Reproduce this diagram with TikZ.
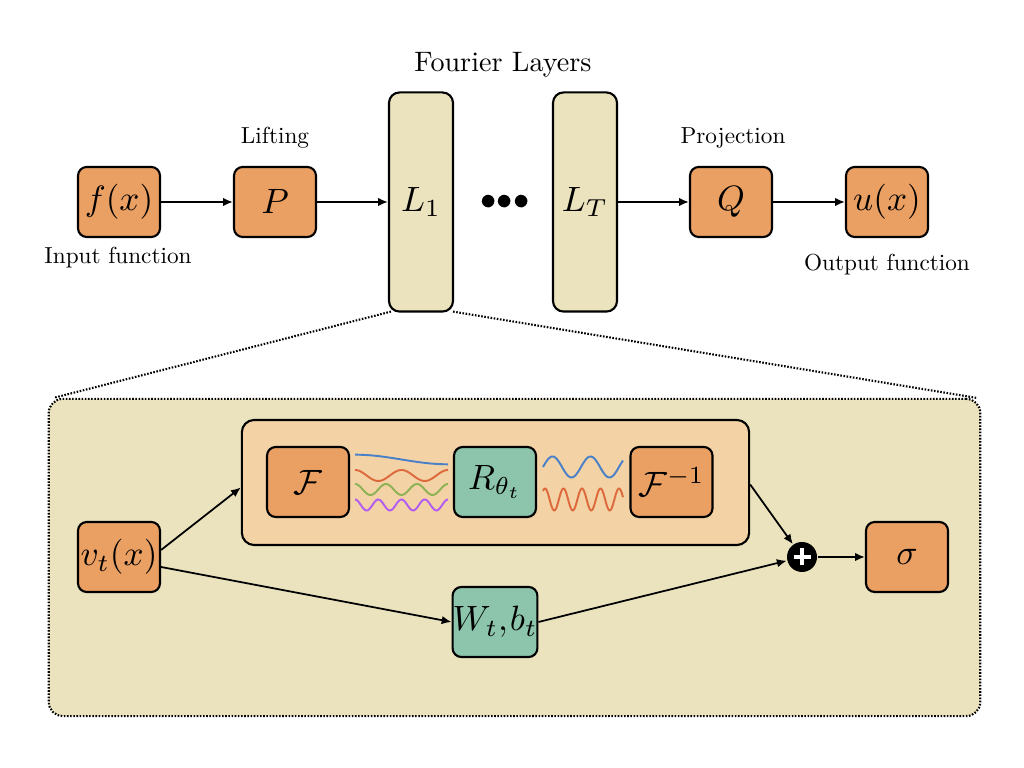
\documentclass[tikz,border=0pt]{standalone}
\usetikzlibrary{arrows.meta}
\definecolor{boxorange}{HTML}{EBA063}
\definecolor{boxgreen}{HTML}{8CC5AC}
\definecolor{panelfill}{HTML}{EAE3BE}
\definecolor{innerfill}{HTML}{F3D2A5}
\definecolor{wblue}{HTML}{4A80C8}
\definecolor{worange}{HTML}{DC6A3C}
\definecolor{wgreen}{HTML}{8DB255}
\definecolor{wpurple}{HTML}{B35CF2}
\newcommand{\smalllabel}[1]{\scalebox{0.66}{#1}}
\tikzset{
  box/.style={draw, line width=0.6pt, rounded corners=2.5pt, minimum width=0.82cm, minimum height=0.70cm, inner sep=0pt, font=\fontsize{10}{12}\selectfont},
  obox/.style={box, fill=boxorange},
  gbox/.style={box, fill=boxgreen},
  layerbox/.style={draw, line width=0.6pt, rounded corners=3pt, fill=panelfill, minimum width=0.64cm, minimum height=2.19cm, inner sep=0pt, font=\fontsize{10}{12}\selectfont},
  lbl/.style={font=\fontsize{10}{12}\selectfont, inner sep=0pt},
  arr/.style={line width=0.5pt, -{Latex[length=2.8pt,width=2.4pt]}},
  densedots/.style={line width=0.6pt, dash pattern=on 0.45pt off 0.45pt},
  wave/.style={line width=0.55pt, smooth, samples=80},
}
\begin{document}
\begin{tikzpicture}[x=0.01cm,y=-0.01cm]
\useasboundingbox (0,0) rectangle (1024,768);
% top row
\node[obox] (f) at (119,202) {$f(x)$};
\node[obox] (P) at (275,202) {$P$};
\node[layerbox] (L1) at (421,202) {$L_1$};
\node[inner sep=0pt, font=\fontsize{9}{10}\selectfont] (dots) at (505,202) {${\bullet}{\bullet}{\bullet}$};
\node[layerbox] (LT) at (585,202) {$L_T$};
\node[obox] (Q) at (731,202) {$Q$};
\node[obox] (u) at (887,202) {$u(x)$};
\node[lbl] (fl) at (503,65) {\scalebox{0.8}{Fourier Layers}};
\node[lbl] (lift) at (275,138) {\smalllabel{Lifting}};
\node[lbl] (proj) at (733,138) {\smalllabel{Projection}};
\node[lbl] (inf) at (118,258) {\smalllabel{Input function}};
\node[lbl] (outf) at (887,265) {\smalllabel{Output function}};
\draw[arr] (f) -- (P);
\draw[arr] (P) -- (L1);
\draw[arr] (LT) -- (Q);
\draw[arr] (Q) -- (u);
% panel
\node[draw, densedots, rounded corners=4pt, fill=panelfill, minimum width=9.31cm, minimum height=3.17cm, inner sep=0pt] (panel) at (514.5,557.5) {};
\draw[densedots] ([xshift=0.03cm,yshift=0.01cm]L1.south west) -- ([xshift=0.06cm]panel.north west);
\draw[densedots] ([xshift=-0.01cm,yshift=0.01cm]L1.south east) -- ([xshift=-0.05cm]panel.north east);
\node[draw, line width=0.6pt, rounded corners=3.5pt, fill=innerfill, minimum width=5.07cm, minimum height=1.25cm, inner sep=0pt] (inner) at (495.5,482.5) {};
\node[obox] (F) at (308,482) {$\mathcal{F}$};
\node[gbox] (R) at (495,482) {$R_{\theta_t}$};
\node[obox] (Fi) at (671.5,482) {$\mathcal{F}^{-1}$};
\node[obox] (v) at (119,557) {$v_t(x)$};
\node[obox] (s) at (907,557) {$\sigma$};
\node[gbox] (W) at (495,622) {$W_t{,}\mkern1mu b_t$};
\node[circle, fill=black, minimum size=0.30cm, inner sep=0pt] (plus) at (802,557) {};
\draw[white, line width=1.3pt] ([xshift=-0.085cm]plus.center) -- ([xshift=0.085cm]plus.center);
\draw[white, line width=1.3pt] ([yshift=-0.085cm]plus.center) -- ([yshift=0.085cm]plus.center);
% waves
\draw[wave, wblue] plot[domain=355:448] (\x,{459.5-4.8*cos((\x-355)/93*180)});
\draw[wave, worange] plot[domain=355:448] (\x,{475.5-5.5*cos((\x-355)/93*720)});
\draw[wave, wgreen] plot[domain=355:448] (\x,{489.5-5.5*cos((\x-355)/93*1080)});
\draw[wave, wpurple] plot[domain=355:448] (\x,{505-5.5*cos((\x-355)/93*1440)});
\draw[wave, wblue] plot[domain=543:623] (\x,{467-10.5*sin((\x-543)/38*360)});
\draw[wave, worange, samples=120] plot[domain=543:623] (\x,{499.5-11*cos((\x-545)/18.5*360)});
% connectors
\draw[arr] ([yshift=0.07cm]v.east) -- ([yshift=-0.05cm]inner.west);
\draw[arr] ([yshift=-0.1cm]v.east) -- (W.west);
\draw[arr] ([yshift=-0.02cm]inner.east) -- (plus);
\draw[arr] (W.east) -- (plus);
\draw[arr] (plus) -- (s);
\end{tikzpicture}
\end{document}
